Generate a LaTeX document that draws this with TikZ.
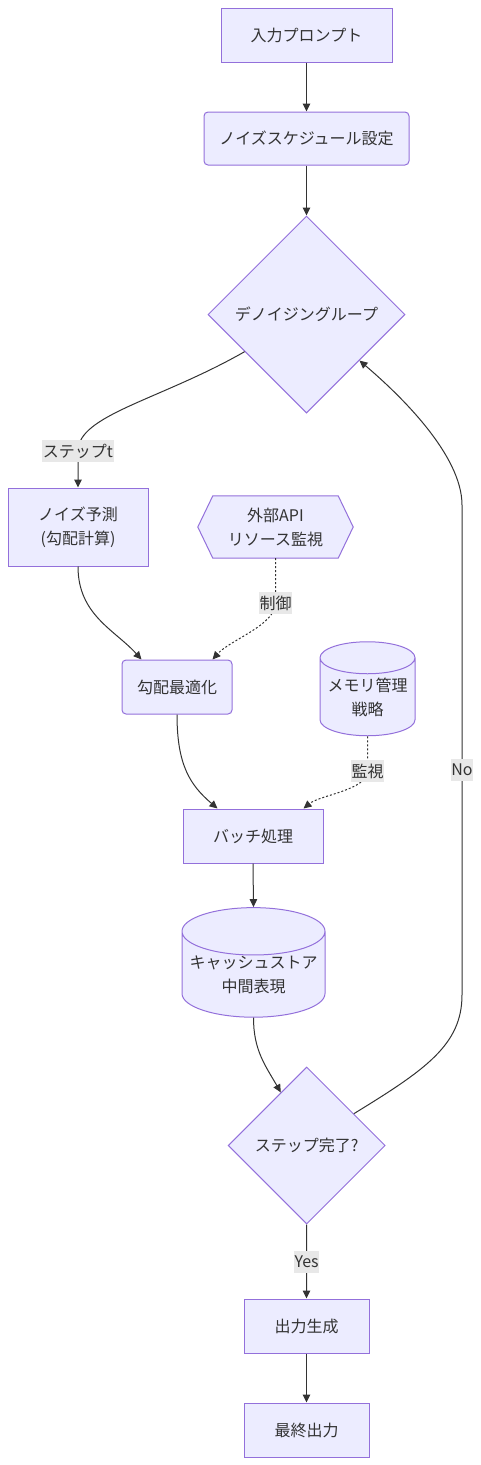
\documentclass[tikz,border=0pt]{standalone}
\usepackage{fontspec}
\setmainfont{Noto Sans CJK JP}
\usepackage{tikz}
\usetikzlibrary{shapes.geometric}
\usetikzlibrary{arrows.meta}
\usetikzlibrary{backgrounds}

\definecolor{nodefill}{HTML}{ECECFF}
\definecolor{nodeline}{HTML}{9370DB}
\definecolor{edgeline}{HTML}{333333}
\definecolor{textcol}{HTML}{333333}
\definecolor{labelbg}{HTML}{E8E8E8}

\tikzset{
  box/.style={draw=nodeline, fill=nodefill, line width=1pt, text=textcol,
    align=center, inner sep=0pt},
  rbox/.style={box, rounded corners=4pt},
  decision/.style={box, diamond, aspect=1},
  store/.style={box, cylinder, shape border rotate=90},
  flow/.style={draw=edgeline, line width=1pt, ->},
  dotflow/.style={flow, dash pattern=on 2pt off 2pt},
  elabel/.style={fill=labelbg, text=textcol, inner xsep=0.5pt, inner ysep=0pt,
    minimum height=22pt}
}

\begin{document}
\begin{tikzpicture}[x=1pt, y=-1pt, >={Triangle[length=8pt,width=7.5pt]},
  font=\fontsize{16pt}{24pt}\selectfont]
  \useasboundingbox (0,0) rectangle (480,1465);

  \node[box, minimum width=171pt, minimum height=54pt] (input) at (306.5,35) {入力プロンプト};
  \node[rbox, minimum width=205pt, minimum height=53pt] (sched) at (306.5,138.5) {ノイズスケジュール設定};
  \node[decision, minimum width=197pt, minimum height=197pt] (den) at (306.5,314.5) {デノイジングループ};
  \node[box, minimum width=140pt, minimum height=78pt] (pred) at (78,527) {ノイズ予測\\(勾配計算)};
  \node[text=textcol, align=center, inner sep=0pt, minimum width=155pt,
    minimum height=62pt] (api) at (275.5,527) {外部API\\リソース監視};
  \node[rbox, minimum width=110pt, minimum height=54pt] (opt) at (177,687) {勾配最適化};
  \node[store, aspect=0.4, minimum width=95pt, minimum height=94pt] (mem) at (367.5,697) {メモリ管理\\戦略};
  \node[box, minimum width=140pt, minimum height=54pt] (batch) at (253,836) {バッチ処理};
  \node[store, aspect=0.37, minimum width=143pt, minimum height=96pt] (cache) at (253.5,974.5) {キャッシュストア\\中間表現};
  \node[decision, minimum width=157pt, minimum height=157pt] (done) at (306.7,1145.5) {ステップ完了?};
  \node[box, minimum width=125pt, minimum height=54pt] (gen) at (306.5,1326) {出力生成};
  \node[box, minimum width=125pt, minimum height=54pt] (final) at (306.5,1430) {最終出力};

  % hexagon behind the api text
  \begin{pgfonlayer}{background}
    \draw[draw=nodeline, fill=nodefill, line width=1pt] (api.west) -- ([xshift=15pt]api.north west)
      -- ([xshift=-15pt]api.north east) -- (api.east) -- ([xshift=-15pt]api.south east)
      -- ([xshift=15pt]api.south west) -- cycle;
  \end{pgfonlayer}

  \draw[flow] (input) -- (sched);
  \draw[flow] (sched) -- (den);
  \draw[flow] (den.211) .. controls (160,400) and (78,415) .. (78,451)
    node[elabel] {ステップt} -- (pred.north);
  \draw[flow] (pred.south) .. controls (78,615) and (115,630) .. ([xshift=20pt]opt.north west);
  \draw[dotflow] (api.south) .. controls (275.5,590) and (275.5,595) .. (275.5,603)
    node[elabel] {制御} .. controls (275.5,625) and (230,640) .. ([xshift=-20pt]opt.north east);
  \draw[flow] (opt.south) .. controls (177,765) and (190,785) .. ([xshift=35pt]batch.north west);
  \draw[dotflow] (mem.south) .. controls (367.5,760) and (367.5,765) .. (367.5,771)
    node[elabel] {監視} .. controls (367.5,790) and (320,795) .. ([xshift=-20pt]batch.north east);
  \draw[flow] (batch.south) -- (cache.north);
  \draw[flow] (cache.south) .. controls (253.5,1050) and (265,1065) .. (done.116);
  \draw[flow] (done.34) .. controls (425,1070) and (462,1045) .. (462,995)
    -- node[elabel, pos=0.46] {No} (462,505) .. controls (462,455) and (400,395) .. (den.319);
  \draw[flow] (done.south) -- node[elabel] {Yes} (gen.north);
  \draw[flow] (gen) -- (final);
\end{tikzpicture}
\end{document}
